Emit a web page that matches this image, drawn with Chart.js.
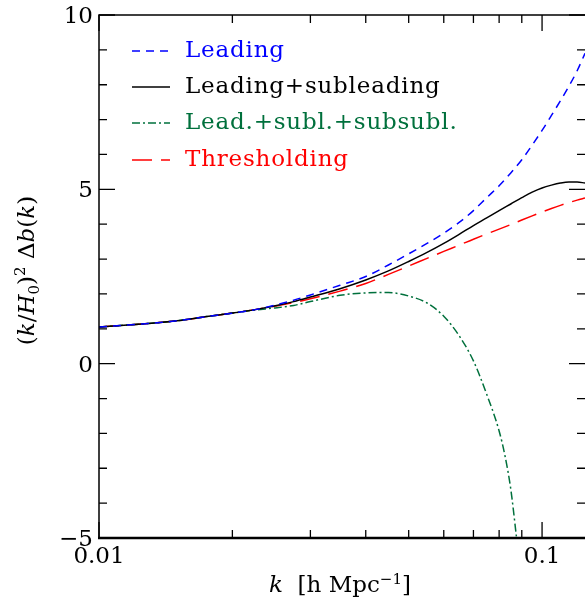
<!DOCTYPE html>
<html>
<head>
<meta charset="utf-8">
<script src="https://cdn.jsdelivr.net/npm/chart.js@4"></script>
<style>
html, body { margin: 0; padding: 0; background: #fff; }
canvas { display: block; }
</style>
</head>
<body>
<canvas id="chart" width="585" height="605"></canvas>
<script>
// k grid (h/Mpc) shared by three curves
const kGrid = [0.01, 0.0125, 0.015, 0.0175, 0.02, 0.0225, 0.025, 0.0275, 0.03, 0.035,
  0.04, 0.045, 0.05, 0.055, 0.06, 0.065, 0.07, 0.075, 0.08, 0.085,
  0.09, 0.095, 0.1, 0.105, 0.11, 0.115, 0.12, 0.125];

const leading = [1.05, 1.14, 1.23, 1.35, 1.45, 1.55, 1.68, 1.82, 1.97, 2.25,
  2.50, 2.83, 3.15, 3.45, 3.74, 4.05, 4.39, 4.76, 5.10, 5.47,
  5.85, 6.27, 6.69, 7.12, 7.54, 7.96, 8.40, 8.90];

const leadSub = [1.05, 1.14, 1.23, 1.35, 1.45, 1.55, 1.66, 1.78, 1.91, 2.15,
  2.40, 2.66, 2.93, 3.19, 3.45, 3.71, 3.96, 4.18, 4.39, 4.58,
  4.76, 4.92, 5.04, 5.12, 5.18, 5.21, 5.21, 5.18];

const threshold = [1.05, 1.14, 1.23, 1.35, 1.45, 1.55, 1.65, 1.75, 1.86, 2.08,
  2.30, 2.56, 2.80, 3.02, 3.22, 3.40, 3.57, 3.72, 3.86, 3.99,
  4.12, 4.24, 4.35, 4.45, 4.54, 4.62, 4.69, 4.75];

// the subsubleading curve drops out of the frame, so it has its own k values
const kGreen = [0.01, 0.0125, 0.015, 0.0175, 0.02, 0.0225, 0.025, 0.0275, 0.03, 0.035,
  0.04, 0.045, 0.05, 0.055, 0.06, 0.065, 0.07, 0.075, 0.08, 0.0825, 0.085, 0.0876];
const leadSubSub = [1.05, 1.14, 1.23, 1.35, 1.45, 1.54, 1.60, 1.67, 1.78, 1.96,
  2.03, 2.04, 1.94, 1.74, 1.36, 0.80, 0.08, -0.88, -1.93, -2.65, -3.60, -5.0];

// axis ticks
const xMajor = [0.01, 0.1];
const xMajorLabels = ['0.01', '0.1'];
const xMinor = [0.02, 0.03, 0.04, 0.05, 0.06, 0.07, 0.08, 0.09];
const yMajor = [-5, 0, 5, 10];
const yMajorLabels = ['\u22125', '0', '5', '10'];
const yMinor = [-4, -3, -2, -1, 1, 2, 3, 4, 6, 7, 8, 9];

const FONT = '"DejaVu Serif", serif';
const SIZE = 23;

function toPoints(xs, ys) {
  return xs.map((x, i) => ({ x: x, y: ys[i] }));
}

// draw a string made of pieces (italic, sub/superscript) centred on x
function richText(ctx, parts, x, y) {
  let w = 0;
  parts.forEach(p => {
    ctx.font = (p.it ? 'italic ' : '') + Math.round(SIZE * (p.s || 1)) + 'px ' + FONT;
    p.w = ctx.measureText(p.t).width;
    w += p.w;
  });
  let cx = x - w / 2;
  parts.forEach(p => {
    ctx.font = (p.it ? 'italic ' : '') + Math.round(SIZE * (p.s || 1)) + 'px ' + FONT;
    ctx.fillText(p.t, cx, y + (p.dy || 0));
    cx += p.w;
  });
}

const axesPlugin = {
  id: 'paperAxes',
  afterDatasetsDraw(chart) {
    const ctx = chart.ctx;
    const a = chart.chartArea;
    const xs = chart.scales.x, ys = chart.scales.y;
    ctx.save();
    ctx.strokeStyle = '#000';
    ctx.fillStyle = '#000';

    // frame (right edge falls outside the canvas)
    ctx.lineWidth = 1.5;
    ctx.beginPath();
    ctx.moveTo(a.left, a.bottom);
    ctx.lineTo(a.left, a.top);
    ctx.lineTo(a.right + 2, a.top);
    ctx.stroke();
    ctx.lineWidth = 2.5;
    ctx.beginPath();
    ctx.moveTo(a.left - 1, a.bottom);
    ctx.lineTo(a.right + 2, a.bottom);
    ctx.stroke();

    // inward ticks on all four sides
    ctx.lineWidth = 1.3;
    ctx.beginPath();
    const xTick = (v, len) => {
      const px = xs.getPixelForValue(v);
      ctx.moveTo(px, a.bottom); ctx.lineTo(px, a.bottom - len);
      ctx.moveTo(px, a.top); ctx.lineTo(px, a.top + len);
    };
    const yTick = (v, len) => {
      const py = ys.getPixelForValue(v);
      ctx.moveTo(a.left, py); ctx.lineTo(a.left + len, py);
      ctx.moveTo(a.right, py); ctx.lineTo(a.right - len, py);
    };
    xMinor.forEach(v => xTick(v, 8));
    xMajor.forEach(v => xTick(v, 16));
    yMinor.forEach(v => yTick(v, 8));
    yMajor.forEach(v => yTick(v, 16));
    ctx.stroke();

    // tick labels
    ctx.font = SIZE + 'px ' + FONT;
    ctx.textAlign = 'center';
    ctx.textBaseline = 'alphabetic';
    xMajor.forEach((v, i) => {
      ctx.fillText(xMajorLabels[i], xs.getPixelForValue(v), a.bottom + 25);
    });
    ctx.textAlign = 'right';
    yMajor.forEach((v, i) => {
      ctx.fillText(yMajorLabels[i], a.left - 6, ys.getPixelForValue(v) + 8);
    });

    // axis titles
    ctx.textAlign = 'left';
    richText(ctx, [
      { t: 'k', it: true },
      { t: '  [h Mpc' },
      { t: '\u22121', s: 0.65, dy: -8 },
      { t: ']' }
    ], (a.left + a.right) / 2 - 2, 592);

    ctx.save();
    ctx.translate(34, (a.top + a.bottom) / 2 - 6);
    ctx.rotate(-Math.PI / 2);
    richText(ctx, [
      { t: '(' }, { t: 'k', it: true }, { t: '/' }, { t: 'H', it: true },
      { t: '0', s: 0.65, dy: 5 }, { t: ')' }, { t: '2', s: 0.65, dy: -9 },
      { t: ' \u0394' }, { t: 'b', it: true }, { t: '(' }, { t: 'k', it: true }, { t: ')' }
    ], 0, 0);
    ctx.restore();

    // legend inside the frame
    const rows = [51, 87, 123, 160];
    chart.data.datasets.forEach((ds, i) => {
      const y = rows[i];
      ctx.strokeStyle = ds.borderColor;
      ctx.lineWidth = 1.5;
      ctx.setLineDash(ds.borderDash || []);
      ctx.beginPath();
      ctx.moveTo(132, y);
      ctx.lineTo(170, y);
      ctx.stroke();
      ctx.setLineDash([]);
      ctx.fillStyle = ds.borderColor;
      ctx.font = SIZE + 'px ' + FONT;
      ctx.letterSpacing = '0.8px';
      ctx.textAlign = 'left';
      ctx.fillText(ds.label, 185, y + 6);
      ctx.letterSpacing = '0px';
    });
    ctx.restore();
  }
};

new Chart(document.getElementById('chart'), {
  type: 'line',
  data: {
    datasets: [
      { label: 'Leading', data: toPoints(kGrid, leading),
        borderColor: '#0000ff', borderDash: [8, 6] },
      { label: 'Leading+subleading', data: toPoints(kGrid, leadSub),
        borderColor: '#000000', borderDash: [] },
      { label: 'Lead.+subl.+subsubl.', data: toPoints(kGreen, leadSubSub),
        borderColor: '#00703c', borderDash: [8, 3, 2, 3] },
      { label: 'Thresholding', data: toPoints(kGrid, threshold),
        borderColor: '#ff0000', borderDash: [20, 9] }
    ]
  },
  options: {
    responsive: false,
    animation: false,
    layout: { padding: { left: 99, top: 15, right: 0, bottom: 67 } },
    elements: {
      point: { radius: 0 },
      line: { borderWidth: 1.5, cubicInterpolationMode: 'monotone', fill: false }
    },
    plugins: { legend: { display: false }, tooltip: { enabled: false } },
    scales: {
      x: { type: 'logarithmic', min: 0.01, max: 0.125, display: false },
      y: { type: 'linear', min: -5, max: 10, display: false }
    }
  },
  plugins: [axesPlugin]
});
</script>
</body>
</html>
